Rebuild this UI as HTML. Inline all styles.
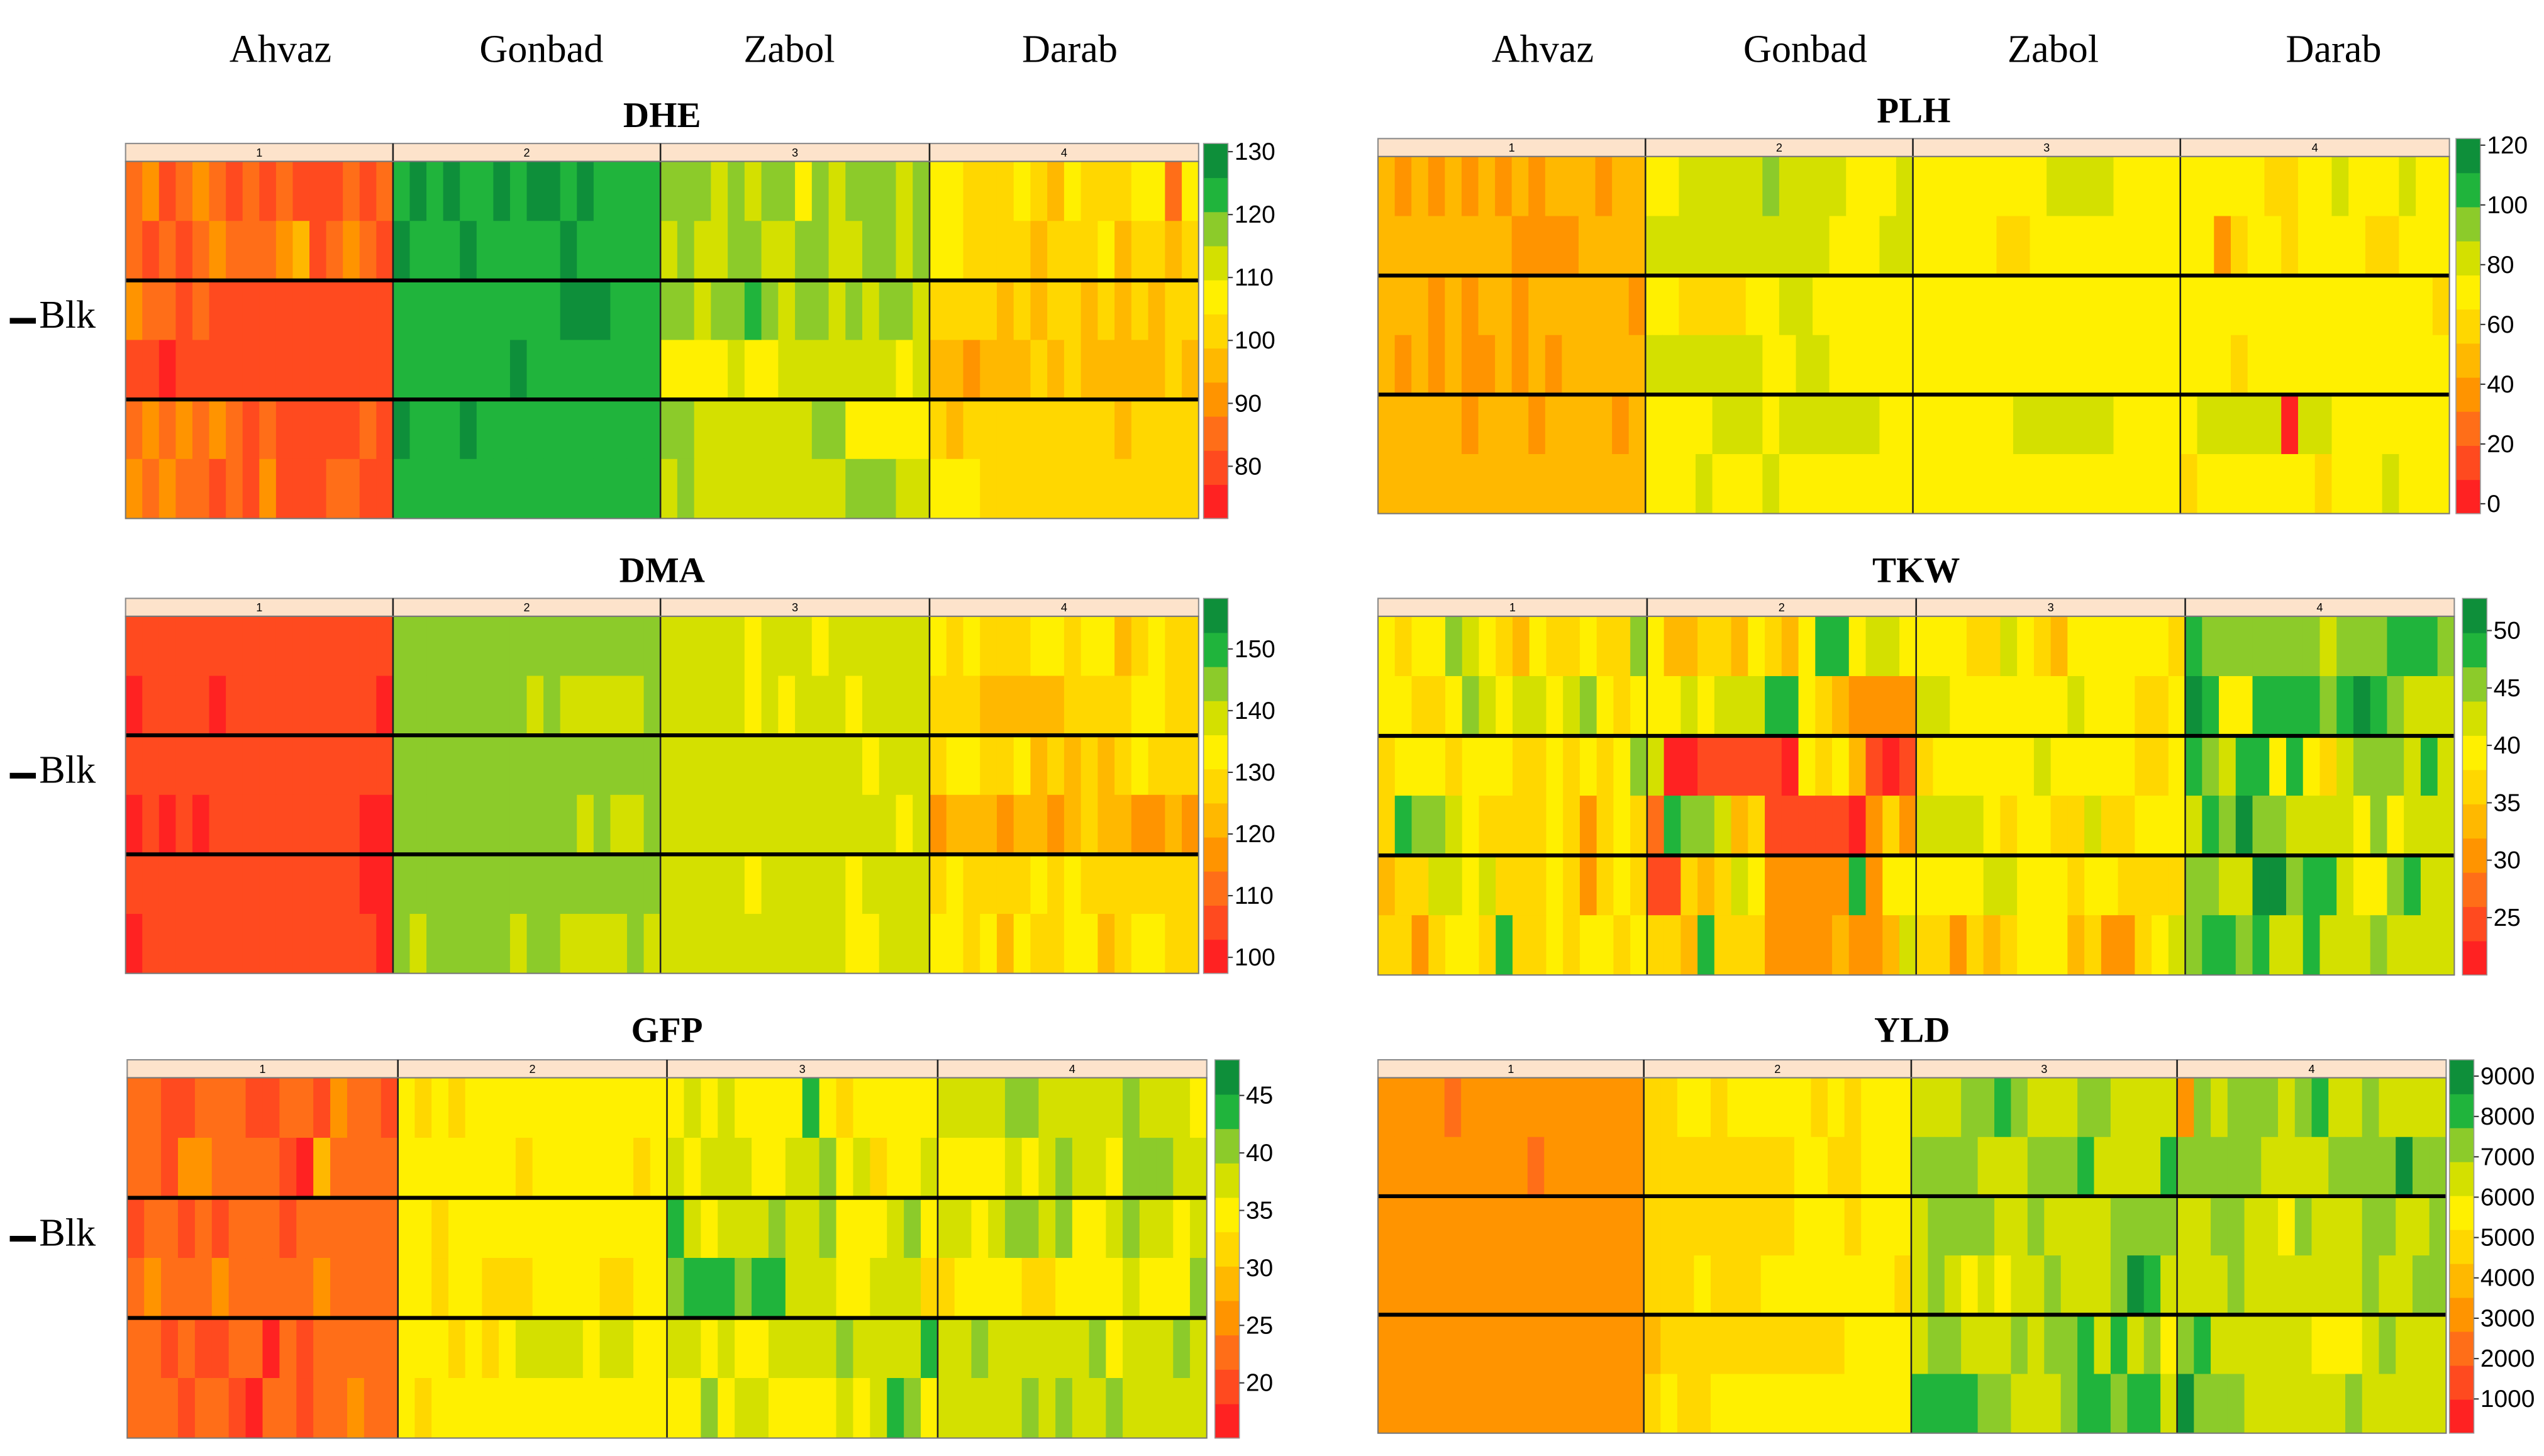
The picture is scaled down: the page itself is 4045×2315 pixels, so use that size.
<!DOCTYPE html>
<html><head><meta charset="utf-8"><style>
html,body{margin:0;padding:0;background:#fff;}
svg{display:block;}
</style></head><body>
<svg id="chart" xmlns="http://www.w3.org/2000/svg" width="4045" height="2315" viewBox="0 0 1560 893" preserveAspectRatio="none">
<rect x="0" y="0" width="1560" height="893" fill="#fff"/>
<g font-family="Liberation Serif, serif" font-size="24" text-anchor="middle">
<text x="172" y="38">Ahvaz</text>
<text x="332" y="38">Gonbad</text>
<text x="484" y="38">Zabol</text>
<text x="656" y="38">Darab</text>
</g>
<g font-family="Liberation Serif, serif" font-size="24" text-anchor="middle">
<text x="946" y="38">Ahvaz</text>
<text x="1107" y="38">Gonbad</text>
<text x="1259" y="38">Zabol</text>
<text x="1431" y="38">Darab</text>
</g>
<g id="panels"></g>
</svg>
<script>
// ---- data (level codes 0..10 per cell; '0'=lowest, 'a'=highest) ----
const envLabels = ["1","2","3","4"];
const palette = ["#FF2222","#FF4A1F","#FF6E18","#FF9400","#FFB800","#FFD700","#FFF000","#D4E000","#8CCB2A","#20B43C","#0E8F3A"];

const dheRows = [
"2312321212111212 9a9a99a9aa9a9999 8887878868788878 6655565465556626",
"2121232223412321 a999a99999a99999 7877887788778878 6655554555645545",
"3221211111111111 9999999999aaa999 8878898788787887 5555454554545455",
"1101111111111111 9999999a99999999 6666766777777767 4434445454444454",
"2323232121111121 a999a99999999999 8877777778866666 5455555555545555",
"3232212131112211 9999999999999999 7877777777788877 6665555555555555"];
const dmaRows = [
"1111111111111111 8888888888888888 7777767776777777 6565556656645655",
"0111101111111110 8888888878777778 7777767677767777 5554444455556655",
"1111111111111111 8888888888888888 7777777777776777 5665564545456555",
"0101011111111100 8888888888878778 7777777777777767 3444344345443343",
"1111111111111100 8888888888888888 7777767777767777 5655556565555555",
"0111111111111110 8788888788777787 7777777777766777 6656465566456655"];
const gfpRows = [
"2211222112213221 6565666666666666 6767666696566666 7777887777787776",
"2213322221042222 6666666566666656 7677766778675667 6666767877688877",
"1221212221222222 6656666666666666 9767778778666786 7767887866787767",
"2322232222232222 6656655566665566 8999899777667775 5666655666676668",
"2212112202122222 6665656777767766 7767667777877779 7787777778677787",
"2221221022122322 6566666666666666 6686776666767986 7777787877877777"];
const plhRows = [
"4343434343444344 6677777877776667 6666666677776666 6666655667666766",
"4444444433334444 7777777777766677 6666655666666666 6635665666655666",
"4443434434444443 6655556677666666 6666666666666666 6666666666666665",
"4343433434344444 7777777667766666 6666666666666666 6665666666666666",
"4444434443444434 6666777677777766 6666667777776666 6777770776666666",
"4444444444444444 6667666766666666 6666666666666666 5666666656667666"];
const tkwRows = [
"6566876546556558 6445546546996776 6665576546666665 9888888878889998",
"6655687677678656 6676777996543333 7766666667666556 a966999989a98777",
"5666566655656568 7001111106564101 5666666766666556 9879969657888797",
"5988765555653565 2988745111110353 7777656655755666 798a887777686777",
"4557767555653565 1154576333339366 6666776665665555 8877aa8997668977",
"5535665955656656 5549555333343347 5535456664533567 8998977977787777"];
const yldRows = [
"3333233333333333 5566566666565666 7778898777887777 3878887897787777",
"3333333332333333 5555555556655666 8888777888977779 8888877778888a88",
"3333333333333333 5555555556665666 7888877877778888 7788776877788778",
"3333333333333333 5556555666666665 7876767787778a97 7778777777787788",
"3333333333333333 4555555555556666 7887778788979786 8977777766678777",
"3333333333333333 5655666666666666 9999887778998997 a888777777877777"];

const dheTicks = [80,90,100,110,120,130];
const plhTicks = [0,20,40,60,80,100,120];
const dmaTicks = [100,110,120,130,140,150];
const tkwTicks = [25,30,35,40,45,50];
const gfpTicks = [20,25,30,35,40,45];
const yldTicks = [1000,2000,3000,4000,5000,6000,7000,8000,9000];

const panels = [
 {key:"dhe",title:"DHE",rows:dheRows,ticks:dheTicks,vmin:71.7,vmax:131.3,x0:77,x1:735,envX:[77,241,405,570,735],titleY:78,stripTop:88,heatTop:99,heatBot:318,bx:738,by0:88,by1:318,blkY:201},
 {key:"plh",title:"PLH",rows:plhRows,ticks:plhTicks,vmin:-3.3,vmax:122.2,x0:845,x1:1502,envX:[845,1009,1173,1337,1502],titleY:75,stripTop:85,heatTop:96,heatBot:315,bx:1506,by0:85,by1:315},
 {key:"dma",title:"DMA",rows:dmaRows,ticks:dmaTicks,vmin:97.4,vmax:158.2,x0:77,x1:735,envX:[77,241,405,570,735],titleY:357,stripTop:367,heatTop:378,heatBot:597,bx:738,by0:367,by1:597,blkY:480},
 {key:"tkw",title:"TKW",rows:tkwRows,ticks:tkwTicks,vmin:20.0,vmax:52.8,x0:845,x1:1505,envX:[845,1010,1175,1340,1505],titleY:357,stripTop:367,heatTop:378,heatBot:598,bx:1510,by0:367,by1:598},
 {key:"gfp",title:"GFP",rows:gfpRows,ticks:gfpTicks,vmin:15.2,vmax:48.1,x0:78,x1:740,envX:[78,244,409,575,740],titleY:639,stripTop:650,heatTop:661,heatBot:882,bx:745,by0:650,by1:882,blkY:764},
 {key:"yld",title:"YLD",rows:yldRows,ticks:yldTicks,vmin:152,vmax:9404,x0:845,x1:1500,envX:[845,1008,1172,1335,1500],titleY:639,stripTop:650,heatTop:661,heatBot:879,bx:1502,by0:650,by1:879}
];

const NS = "http://www.w3.org/2000/svg";
function mk(tag, attrs, parent){
  const e = document.createElementNS(NS, tag);
  for (const k in attrs) e.setAttribute(k, attrs[k]);
  parent.appendChild(e);
  return e;
}
function levelToValue(p, ch){
  const l = parseInt(ch, 11);
  return p.vmin + (l + 0.5) / 11 * (p.vmax - p.vmin);
}
function colorFor(p, v){
  let i = Math.floor((v - p.vmin) / (p.vmax - p.vmin) * 11);
  i = Math.max(0, Math.min(10, i));
  return palette[i];
}
const root = document.getElementById("panels");

panels.forEach(p => {
  const g = mk("g", {}, root);
  
  

  const t = mk("text", {x:(p.x0+p.x1)/2, y:p.titleY, "text-anchor":"middle", "font-family":"Liberation Serif, serif", "font-weight":"bold", "font-size":"22"}, g);
  
  
  t.textContent = p.title;

  // strips
  for (let e = 0; e < 4; e++){
    const s = mk("rect", {x:p.envX[e], y:p.stripTop, width:p.envX[e+1]-p.envX[e], height:p.heatTop-p.stripTop, fill:"#FDE3CB", stroke:"#8a8a8a", "stroke-width":"0.8"}, g);
    
    
    const st = mk("text", {x:(p.envX[e]+p.envX[e+1])/2, y:p.heatTop-3, "text-anchor":"middle", "font-family":"Liberation Sans, sans-serif", "font-size":"7"}, g);
    
    
    st.textContent = envLabels[e];
  }

  // cells
  const rowsN = p.rows.length;
  const rh = (p.heatBot - p.heatTop) / rowsN;
  p.rows.forEach((rowStr, r) => {
    const envs = rowStr.split(" ");
    envs.forEach((es, e) => {
      const n = es.length;
      const cw = (p.envX[e+1] - p.envX[e]) / n;
      for (let c = 0; c < n; c++){
        const v = levelToValue(p, es[c]);
        const cell = mk("rect", {x:(p.envX[e]+c*cw).toFixed(2), y:(p.heatTop+r*rh).toFixed(2), width:(cw+0.3).toFixed(2), height:(rh+0.3).toFixed(2), fill:colorFor(p, v)}, g);
        
        
      }
    });
  });

  // env separators
  for (let e = 1; e < 4; e++){
    const l = mk("line", {x1:p.envX[e], x2:p.envX[e], y1:p.stripTop, y2:p.heatBot, stroke:"#222", "stroke-width":"1"}, g);
    
    
  }
  // block separators
  [2,4].forEach(r => {
    const y = p.heatTop + r*rh;
    const l = mk("line", {x1:p.x0, x2:p.x1, y1:y, y2:y, stroke:"#000", "stroke-width":"2.4"}, g);
    
    
  });
  const fr = mk("rect", {x:p.x0, y:p.heatTop, width:p.x1-p.x0, height:p.heatBot-p.heatTop, fill:"none", stroke:"#777", "stroke-width":"0.8"}, g);
  
  

  // colorbar
  const bh = (p.by1 - p.by0) / 11;
  for (let i = 0; i < 11; i++){
    const b = mk("rect", {x:p.bx, y:(p.by1-(i+1)*bh).toFixed(2), width:15, height:(bh+0.3).toFixed(2), fill:palette[i]}, g);
    
    
  }
  const bf = mk("rect", {x:p.bx, y:p.by0, width:15, height:p.by1-p.by0, fill:"none", stroke:"#999", "stroke-width":"0.6"}, g);
  
  
  p.ticks.forEach(tv => {
    const y = p.by1 - (tv - p.vmin) / (p.vmax - p.vmin) * (p.by1 - p.by0);
    const tk = mk("line", {x1:p.bx+15, x2:p.bx+18, y1:y, y2:y, stroke:"#333", "stroke-width":"0.8"}, g);
    
    
    const tl = mk("text", {x:p.bx+19, y:y+5, "font-family":"Liberation Sans Narrow, Liberation Sans, sans-serif", "font-size":"15"}, g);
    
    
    tl.textContent = tv;
  });

  if (p.blkY){
    const dash = mk("rect", {x:6, y:p.blkY-6, width:16, height:3.5, fill:"#000"}, g);
    
    
    const bl = mk("text", {x:24, y:p.blkY, "font-family":"Liberation Serif, serif", "font-size":"24"}, g);
    
    
    bl.textContent = "Blk";
  }
});
</script>
</body></html>
